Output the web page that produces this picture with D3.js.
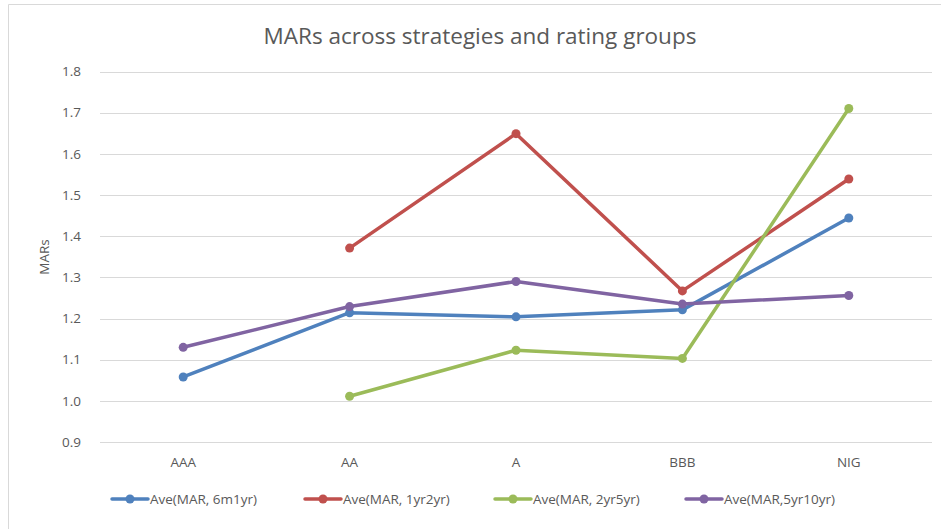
<!DOCTYPE html>
<html>
<head>
<meta charset="utf-8">
<title>MARs across strategies and rating groups</title>
<script src="https://cdn.jsdelivr.net/npm/d3@7"></script>
<style>
  body { margin: 0; background: #fff; }
  svg { display: block; }
</style>
</head>
<body>
<script>
// categories and series (null = no value for that group)
var categories = ["AAA", "AA", "A", "BBB", "NIG"];
var seriesNames = ["Ave(MAR, 6m1yr)", "Ave(MAR, 1yr2yr)", "Ave(MAR, 2yr5yr)", "Ave(MAR,5yr10yr)"];
var mar6m1yr  = [1.058, 1.214, 1.204, 1.221, 1.444];
var mar1yr2yr = [null, 1.371, 1.649, 1.267, 1.539];
var mar2yr5yr = [null, 1.011, 1.123, 1.103, 1.710];
var mar5yr10yr = [1.130, 1.229, 1.290, 1.235, 1.256];
var yTicks = [0.9, 1.0, 1.1, 1.2, 1.3, 1.4, 1.5, 1.6, 1.7, 1.8];
var colors = ["#4f81bd", "#c0504d", "#9bbb59", "#8064a2"];

var allSeries = [mar6m1yr, mar1yr2yr, mar2yr5yr, mar5yr10yr];

var w = 941, h = 529;
var plotLeft = 100, plotRight = 932, plotTop = 71.5, plotBottom = 442;
var font = "'Open Sans', sans-serif";

var svg = d3.select("body").append("svg")
  .attr("width", w)
  .attr("height", h);

// chart frame (cropped: only top and left edges visible)
svg.append("path")
  .attr("d", "M8.5," + h + "V4.5H" + w)
  .attr("fill", "none")
  .attr("stroke", "#d9d9d9")
  .attr("stroke-width", 1);

var x = d3.scaleBand().domain(categories).range([plotLeft, plotRight]);
var y = d3.scaleLinear().domain([0.9, 1.8]).range([plotBottom, plotTop]);

// gridlines
svg.append("g")
  .selectAll("line")
  .data(yTicks)
  .enter().append("line")
  .attr("x1", plotLeft)
  .attr("x2", plotRight)
  .attr("y1", function(d) { return Math.round(y(d)) + 0.5; })
  .attr("y2", function(d) { return Math.round(y(d)) + 0.5; })
  .attr("stroke", "#d9d9d9")
  .attr("stroke-width", 1);

// y axis labels
var yAxis = d3.axisLeft(y).tickValues(yTicks).tickFormat(d3.format(".1f")).tickSize(0).tickPadding(19);
var gy = svg.append("g").attr("transform", "translate(" + plotLeft + ",0)").call(yAxis);
gy.select(".domain").remove();
gy.selectAll("text")
  .attr("font-family", font)
  .attr("font-size", "13.5px")
  .attr("fill", "#595959");

// x axis labels
var xAxis = d3.axisBottom(x).tickSize(0).tickPadding(15);
var gx = svg.append("g").attr("transform", "translate(0," + plotBottom + ")").call(xAxis);
gx.select(".domain").remove();
gx.selectAll("text")
  .attr("font-family", font)
  .attr("font-size", "13.5px")
  .attr("fill", "#595959");

// title
svg.append("text")
  .attr("x", 480)
  .attr("y", 44)
  .attr("text-anchor", "middle")
  .attr("font-family", font)
  .attr("font-size", "22.5px")
  .attr("fill", "#595959")
  .text("MARs across strategies and rating groups");

// y axis title
svg.append("text")
  .attr("transform", "translate(49,257) rotate(-90)")
  .attr("text-anchor", "middle")
  .attr("font-family", font)
  .attr("font-size", "13.5px")
  .attr("fill", "#595959")
  .text("MARs");

var cx = function(i) { return x(categories[i]) + x.bandwidth() / 2; };

var line = d3.line()
  .defined(function(d) { return d != null; })
  .x(function(d, i) { return cx(i); })
  .y(function(d) { return y(d); });

allSeries.forEach(function(s, k) {
  var g = svg.append("g");
  g.append("path")
    .datum(s)
    .attr("d", line)
    .attr("fill", "none")
    .attr("stroke", colors[k])
    .attr("stroke-width", 3.5)
    .attr("stroke-linejoin", "round")
    .attr("stroke-linecap", "round");
  g.selectAll("circle")
    .data(s.map(function(v, i) { return {v: v, i: i}; }).filter(function(d) { return d.v != null; }))
    .enter().append("circle")
    .attr("cx", function(d) { return cx(d.i); })
    .attr("cy", function(d) { return y(d.v); })
    .attr("r", 4.5)
    .attr("fill", colors[k]);
});

// legend
var legendX = [112, 305, 495, 686];
var legend = svg.append("g").selectAll("g")
  .data(seriesNames)
  .enter().append("g")
  .attr("transform", function(d, i) { return "translate(" + legendX[i] + ",499)"; });
legend.append("line")
  .attr("x1", 0).attr("x2", 36)
  .attr("stroke", function(d, i) { return colors[i]; })
  .attr("stroke-width", 3.5)
  .attr("stroke-linecap", "round");
legend.append("circle")
  .attr("cx", 18)
  .attr("r", 4.5)
  .attr("fill", function(d, i) { return colors[i]; });
legend.append("text")
  .attr("x", 38)
  .attr("y", 5)
  .attr("font-family", font)
  .attr("font-size", "13.5px")
  .attr("fill", "#595959")
  .text(function(d) { return d; });
</script>
</body>
</html>
